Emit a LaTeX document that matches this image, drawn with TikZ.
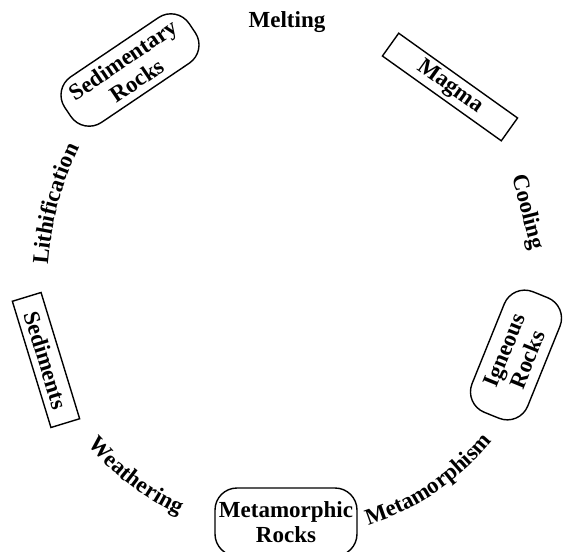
\documentclass[tikz,border=0pt]{standalone}
\usepackage{fontspec}
\setmainfont{Liberation Serif}
\usetikzlibrary{decorations.text}
\newcommand\lblfont{\fontsize{23}{25}\selectfont\bfseries}
\begin{document}
\begin{tikzpicture}[x=1pt,y=-1pt,
  lbl/.style={font=\lblfont, inner sep=0pt},
  sqbox/.style={lbl, draw, line width=1.4pt},
  rbox/.style={lbl, draw, line width=1.4pt, rounded corners=22pt, align=center},
  curvetext/.style={decorate, decoration={text along path, text align=center, text={|\lblfont|#1}}}]
\useasboundingbox (0,0) rectangle (563,552);
\coordinate (c) at (290,275);
\coordinate (cl) at (377,290);
\node[lbl] (melting) at (287,22) {Melting};
\node[sqbox, minimum width=146pt, minimum height=28pt, rotate=-35.5] (magma) at (450,87) {Magma};
\node[lbl, rotate=-76] (cooling) at (527,212) {Cooling};
\node[rbox, minimum width=130pt, minimum height=60pt, rotate=68] (igneous) at (516,355) {Igneous\\Rocks};
\path[curvetext=Metamorphism] ([shift={(74:262)}]c) arc[start angle=74, end angle=38, radius=262];
\node[rbox, minimum width=142pt, minimum height=68pt] (metarocks) at (286,522) {Metamorphic\\Rocks};
\path[curvetext=Weathering] ([shift={(142:264)}]c) arc[start angle=142, end angle=113, radius=264];
\node[sqbox, minimum width=132pt, minimum height=30pt, rotate=-73] (sediments) at (46,360) {Sediments};
\path[curvetext=Lithification] ([shift={(184:330)}]cl) arc[start angle=184, end angle=206, radius=330];
\node[rbox, minimum width=150pt, minimum height=55pt, rotate=34] (sedrocks) at (130,70) {Sedimentary\\Rocks};
\end{tikzpicture}
\end{document}
